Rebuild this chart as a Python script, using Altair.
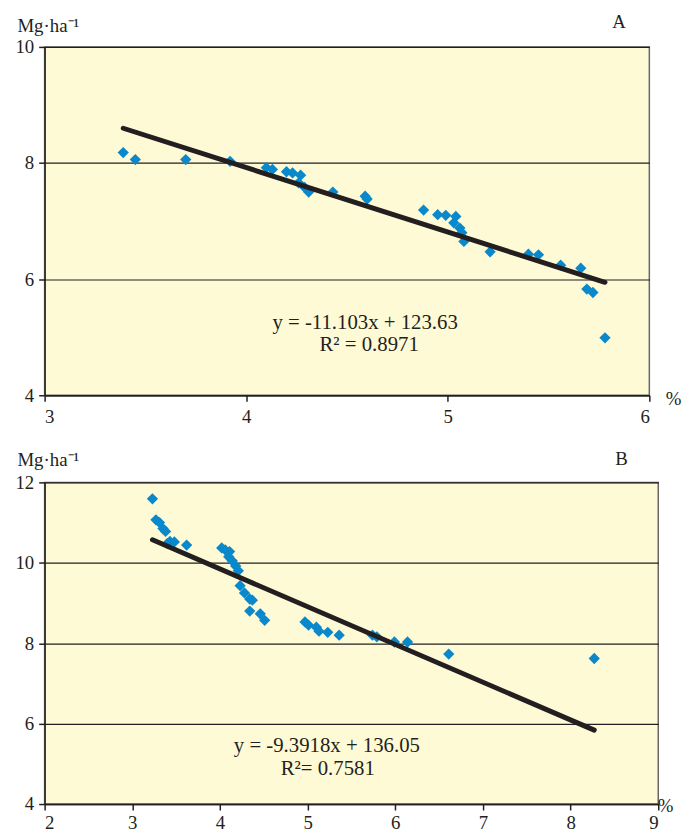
import altair as alt
import pandas as pd

# ---- Panel A data ----
a_x = [3.39, 3.45, 3.70, 3.92, 4.10, 4.13, 4.20, 4.23, 4.27, 4.26, 4.29, 4.31, 4.43,
       4.59, 4.60, 4.88, 4.95, 4.99, 5.04, 5.03, 5.06, 5.07, 5.08, 5.21, 5.40, 5.45,
       5.56, 5.66, 5.69, 5.72, 5.78]
a_y = [8.18, 8.06, 8.06, 8.03, 7.92, 7.89, 7.85, 7.83, 7.79, 7.66, 7.58, 7.50, 7.50,
       7.43, 7.38, 7.19, 7.11, 7.10, 7.08, 6.97, 6.88, 6.80, 6.65, 6.47, 6.43, 6.42,
       6.24, 6.19, 5.83, 5.77, 4.99]
a_slope, a_intercept = -11.103, 123.63
a_eq = ["y = -11.103x + 123.63", "R\u00b2  = 0.8971"]

# ---- Panel B data ----
b_x = [3.23, 3.27, 3.31, 3.35, 3.38, 3.43, 3.40, 3.48, 3.62, 4.02, 4.06, 4.11, 4.10,
       4.14, 4.18, 4.21, 4.23, 4.28, 4.34, 4.37, 4.34, 4.46, 4.51, 4.97, 5.01, 5.10,
       5.13, 5.23, 5.36, 5.74, 5.79, 5.99, 6.14, 6.61, 8.27]
b_y = [11.59, 11.07, 11.00, 10.85, 10.78, 10.53, 10.48, 10.52, 10.44, 10.37, 10.32,
       10.28, 10.15, 10.05, 9.92, 9.80, 9.43, 9.25, 9.10, 9.07, 8.80, 8.73, 8.57, 8.53,
       8.45, 8.40, 8.30, 8.27, 8.20, 8.20, 8.16, 8.03, 8.03, 7.73, 7.62]
b_slope, b_intercept = -9.3918, 136.05
b_eq = ["y = -9.3918x + 136.05", "R\u00b2= 0.7581"]

fit_divisor = 10  # equations are in dt/ha, axis in Mg/ha

FONT = "Liberation Serif"
BLUE = "#0A88CC"
BG = "#FFFAD6"
INK = "#231F20"


def panel(xs, ys, slope, intercept, xdom, ydom, xticks, yticks, w, h,
          eq, eq_x, eq_y, letter, letter_x, letter_y, title_xy, pct_xy, xlabpad):
    pts = pd.DataFrame({"x": xs, "y": ys})
    x0, x1 = min(xs), max(xs)
    fit = pd.DataFrame({"x": [x0, x1],
                        "y": [(slope * x0 + intercept) / fit_divisor,
                              (slope * x1 + intercept) / fit_divisor]})
    eqdf = pd.DataFrame({"x": eq_x, "y": eq_y, "t": eq})
    letdf = pd.DataFrame({"x": [letter_x], "y": [letter_y], "t": [letter]})

    xscale = alt.Scale(domain=xdom, nice=False, zero=False)
    yscale = alt.Scale(domain=ydom, nice=False, zero=False)
    xaxis = alt.Axis(values=xticks, grid=False, title="%", titleAngle=0,
                     titleX=pct_xy[0], titleY=pct_xy[1], titleAlign="left",
                     titleBaseline="alphabetic", format="d", labelPadding=xlabpad)
    yaxis = alt.Axis(values=yticks, grid=True, title="Mg\u00b7ha\u207b\u00b9", titleAngle=0,
                     titleX=title_xy[0], titleY=title_xy[1], titleAlign="left",
                     titleBaseline="alphabetic", format="d")

    points = alt.Chart(pts).mark_point(shape="diamond", filled=True, size=130,
                                       color=BLUE, opacity=1).encode(
        x=alt.X("x:Q", scale=xscale, axis=xaxis),
        y=alt.Y("y:Q", scale=yscale, axis=yaxis))
    line = alt.Chart(fit).mark_line(color=INK, strokeWidth=5, strokeCap="round").encode(
        x="x:Q", y="y:Q")
    text = alt.Chart(eqdf).mark_text(font=FONT, fontSize=21, align="center",
                                     baseline="alphabetic", color=INK).encode(
        x="x:Q", y="y:Q", text="t:N")
    let = alt.Chart(letdf).mark_text(font=FONT, fontSize=19, align="center",
                                     baseline="alphabetic", color=INK).encode(
        x="x:Q", y="y:Q", text="t:N")
    return alt.layer(points, line, text, let).properties(width=w, height=h)


pa = panel(a_x, a_y, a_slope, a_intercept, [3, 6], [4, 10], [3, 4, 5, 6], [4, 6, 8, 10],
           611, 352, a_eq, [4.59, 4.61], [5.14, 4.76], "A", 5.85, 10.32,
           (-28, -16), (627, 9), 7)
pb = panel(b_x, b_y, b_slope, b_intercept, [2, 9], [4, 12], list(range(2, 10)),
           [4, 6, 8, 10, 12], 620, 325, b_eq, [5.22, 5.23], [5.30, 4.71], "B", 8.58, 12.42,
           (-28, -17), (619, 8), 4)

chart = alt.vconcat(pa, pb, spacing=22).properties(
    padding={"left": 6, "top": 0, "right": 0, "bottom": 0}
).configure_view(
    fill=BG, stroke="#666666", strokeWidth=1.5
).configure_axis(
    labelFont=FONT, labelFontSize=19, labelColor=INK,
    titleFont=FONT, titleFontSize=19, titleFontWeight="normal", titleColor=INK,
    domainColor=INK, domainWidth=1.5, tickColor=INK, tickWidth=1.5, tickSize=6,
    gridColor=INK, gridWidth=1.2, gridOpacity=1
).configure_axisY(labelPadding=5)

chart.save("out.html", embed_options={"renderer": "svg", "actions": False})
